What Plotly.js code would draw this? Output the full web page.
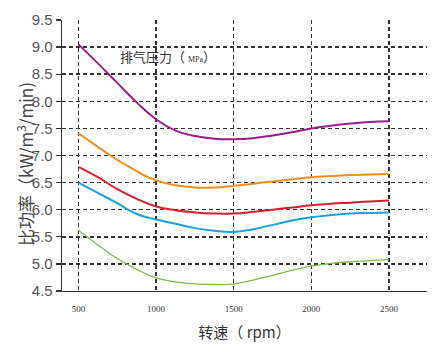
<!DOCTYPE html>
<html><head><meta charset="utf-8">
<script src="https://cdn.plot.ly/plotly-3.0.1.min.js"></script>
<style>html,body{margin:0;padding:0;background:#fff}</style>
</head><body>
<div id="chart" style="width:435px;height:352px"></div>
<script>
const rpm = [500, 625, 750, 875, 1000, 1125, 1250, 1375, 1500, 1625, 1750, 1875, 2000, 2125, 2250, 2375, 2500];
const purple = [9.05, 8.7, 8.34, 7.98, 7.67, 7.46, 7.36, 7.31, 7.3, 7.32, 7.37, 7.43, 7.5, 7.55, 7.59, 7.62, 7.63];
const orange = [7.41, 7.16, 6.92, 6.71, 6.54, 6.45, 6.41, 6.41, 6.44, 6.48, 6.52, 6.56, 6.6, 6.62, 6.64, 6.65, 6.66];
const red = [6.79, 6.6, 6.38, 6.2, 6.06, 5.99, 5.95, 5.93, 5.93, 5.96, 6.0, 6.04, 6.08, 6.11, 6.13, 6.15, 6.17];
const blue = [6.5, 6.31, 6.12, 5.92, 5.82, 5.74, 5.66, 5.61, 5.59, 5.64, 5.72, 5.8, 5.86, 5.9, 5.93, 5.94, 5.95];
const green = [5.62, 5.35, 5.1, 4.9, 4.74, 4.67, 4.63, 4.62, 4.63, 4.7, 4.79, 4.88, 4.96, 5.01, 5.04, 5.06, 5.08];
const xTicks = [500, 1000, 1500, 2000, 2500];
const yTicks = [4.5, 5.0, 5.5, 6.0, 6.5, 7.0, 7.5, 8.0, 8.5, 9.0, 9.5];
const yGrid = [5.0, 5.5, 6.0, 6.5, 7.0, 7.5, 8.0, 8.5, 9.0];

const series = [
  {y: purple, color: '#9c1d8e', w: 2},
  {y: orange, color: '#ee8f1f', w: 2},
  {y: red, color: '#d71f2e', w: 2},
  {y: blue, color: '#1ea0dc', w: 2},
  {y: green, color: '#7dbd4c', w: 1.3}
];
const traces = series.map(s => ({
  x: rpm, y: s.y, type: 'scatter', mode: 'lines',
  line: {color: s.color, width: s.w, shape: 'spline', smoothing: 1.3},
  hoverinfo: 'none', showlegend: false
}));
traces.unshift({x: [rpm[0]], y: [yGrid[0]], xaxis: 'x', yaxis: 'y2', type: 'scatter', mode: 'markers',
  marker: {opacity: 0}, hoverinfo: 'none', showlegend: false});

const gridDash = '4px,3px';
const layout = {
  width: 435, height: 352,
  margin: {l: 62, r: 8, t: 20, b: 61},
  paper_bgcolor: '#fff', plot_bgcolor: '#fff',
  xaxis: {
    range: [394, 2745], tickvals: xTicks, ticktext: xTicks.map(String),
    showgrid: true, gridcolor: '#333', gridwidth: 1.5, griddash: gridDash,
    zeroline: false, showline: true, linecolor: '#333', linewidth: 1.3,
    ticks: '', ticklabelstandoff: 9,
    tickfont: {family: 'Liberation Serif, serif', size: 9, color: '#333'},
    title: {text: '转速（ rpm）', font: {family: 'Noto Sans CJK SC, sans-serif', size: 15, color: '#333'}, standoff: 14}
  },
  yaxis: {
    range: [4.5, 9.5], tickvals: yTicks, ticktext: yTicks.map(v => v.toFixed(1)),
    showgrid: false,
    zeroline: false, showline: true, linecolor: '#333', linewidth: 1.3,
    ticks: 'outside', ticklen: 5, tickcolor: '#333', tickwidth: 1.3,
    tickfont: {family: 'Liberation Sans, Arial, sans-serif', size: 15, color: '#555'}
  },
  yaxis2: {
    overlaying: 'y', range: [4.5, 9.5], tickvals: yGrid, showticklabels: false, ticks: '',
    showgrid: true, gridcolor: '#333', gridwidth: 1.5, griddash: gridDash,
    zeroline: false, showline: false, layer: 'below traces'
  },
  annotations: [{
    xref: 'x', yref: 'y', x: 755, y: 8.82, xanchor: 'left', yanchor: 'middle',
    showarrow: false,
    text: '排气压力（ <span style="font-family:Liberation Serif;font-size:8px">MPa</span>）',
    font: {family: 'Noto Sans CJK SC, sans-serif', size: 13, color: '#333'}
  }, {
    xref: 'paper', yref: 'paper', x: -37 / 365, y: (291 - 164) / 271,
    xanchor: 'center', yanchor: 'middle', textangle: -90, showarrow: false,
    text: '比功率（kW/m<sup>3</sup>/min)',
    font: {family: 'Noto Sans CJK SC, sans-serif', size: 17, color: '#444'}
  }]
};
Plotly.newPlot('chart', traces, layout, {displayModeBar: false, staticPlot: true});
</script>
</body></html>
